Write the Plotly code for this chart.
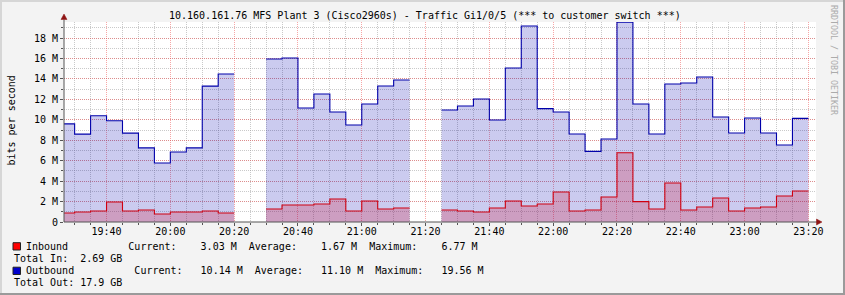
import plotly.graph_objects as go
from datetime import datetime, timedelta

# ---------------- data ----------------
DAY = "2024-01-01"
STEP_MIN = 5  # each sample covers the 5 minutes ending at its timestamp

interval_end = [
    "19:30", "19:35", "19:40", "19:45", "19:50", "19:55", "20:00", "20:05",
    "20:10", "20:15", "20:20", "20:25", "20:30", "20:35", "20:40", "20:45",
    "20:50", "20:55", "21:00", "21:05", "21:10", "21:15", "21:20", "21:25",
    "21:30", "21:35", "21:40", "21:45", "21:50", "21:55", "22:00", "22:05",
    "22:10", "22:15", "22:20", "22:25", "22:30", "22:35", "22:40", "22:45",
    "22:50", "22:55", "23:00", "23:05", "23:10", "23:15", "23:20",
]

# Mbit/s (None = no data)
outbound_m = [
    9.60, 8.60, 10.40, 9.90, 8.70, 7.25, 5.77, 6.85,
    7.25, 13.30, 14.48, None, None, 15.95, 16.05, 11.15,
    12.52, 10.76, 9.49, 11.55, 13.31, 13.89, None, None,
    10.96, 11.35, 12.03, 9.98, 15.07, 19.18, 11.09, 10.76,
    8.61, 6.91, 8.12, 19.56, 11.55, 8.61, 13.50, 13.60,
    14.19, 10.27, 8.71, 10.17, 8.71, 7.53, 10.14,
]
inbound_m = [
    0.88, 0.98, 1.08, 1.96, 1.08, 1.17, 0.78, 0.98,
    0.98, 1.08, 0.88, None, None, 1.27, 1.66, 1.66,
    1.76, 2.25, 1.08, 2.05, 1.27, 1.37, None, None,
    1.17, 1.08, 0.98, 1.37, 2.05, 1.57, 1.76, 2.94,
    1.08, 1.17, 2.45, 6.77, 1.99, 1.27, 3.82, 1.17,
    1.47, 2.35, 1.08, 1.37, 1.47, 2.54, 3.03,
]

y_tickvals = [0, 2, 4, 6, 8, 10, 12, 14, 16, 18]
y_ticktext = ["0", "2 M", "4 M", "6 M", "8 M", "10 M", "12 M", "14 M", "16 M", "18 M"]

title_text = "10.160.161.76 MFS Plant 3 (Cisco2960s) - Traffic Gi1/0/5 (*** to customer switch ***)"
legend_lines = [
    "Inbound          Current:    3.03 M  Average:    1.67 M  Maximum:    6.77 M",
    "Total In:  2.69 GB",
    "Outbound          Current:   10.14 M  Average:   11.10 M  Maximum:   19.56 M",
    "Total Out: 17.9 GB",
]

# ---------------- helpers ----------------
FONT = "DejaVu Sans Mono"
W, H = 845, 295
L, R, T, B = 64, 29, 22, 73
PW, PH = W - L - R, H - T - B


def px(xp):
    return (xp - L) / PW


def py(yp):
    return (H - B - yp) / PH


def ts(hm):
    return datetime.strptime(DAY + " " + hm, "%Y-%m-%d %H:%M")


def step_runs(ends, vals):
    """Split the series into continuous runs and build step outlines."""
    runs, xs, ys = [], [], []
    for e, v in zip(ends, vals):
        t1 = ts(e)
        t0 = t1 - timedelta(minutes=STEP_MIN)
        if v is None:
            if xs:
                runs.append((xs, ys))
            xs, ys = [], []
        else:
            xs += [t0, t1]
            ys += [v, v]
    if xs:
        runs.append((xs, ys))
    return runs


fig = go.Figure()
for vals, fillc, linec in [(outbound_m, "rgba(0,0,176,0.205)", "#0000aa"),
                           (inbound_m, "rgba(212,0,30,0.22)", "#d00010")]:
    for xs, ys in step_runs(interval_end, vals):
        fig.add_trace(go.Scatter(x=xs, y=ys, mode="lines", fill="tozeroy",
                                 fillcolor=fillc, line=dict(color=linec, width=1.1),
                                 hoverinfo="skip"))

x_start = ts("19:26") + timedelta(seconds=40)
x_end = ts("23:22") + timedelta(seconds=23)

major_grid = "rgba(240,80,80,0.5)"
minor_grid = "rgba(150,150,150,0.5)"

fig.update_xaxes(
    type="date", range=[x_start, x_end],
    tick0=ts("19:40"), dtick=20 * 60 * 1000, tickformat="%H:%M",
    showgrid=True, gridcolor=major_grid, griddash="1px,1px", gridwidth=1,
    ticks="outside", ticklen=3, tickcolor="#555555", ticklabelstandoff=-3,
    minor=dict(dtick=5 * 60 * 1000, showgrid=True, gridcolor=minor_grid,
               griddash="1px,1px", ticks="outside", ticklen=2, tickcolor="#555555"),
    showline=False, zeroline=False, layer="above traces",
    tickfont=dict(family=FONT, size=10, color="#000000"), fixedrange=True,
)
fig.update_yaxes(
    range=[0, 19.57], tickvals=y_tickvals, ticktext=y_ticktext,
    showgrid=True, gridcolor=major_grid, griddash="1px,1px", gridwidth=1,
    ticks="outside", ticklen=3, tickcolor="#555555",
    minor=dict(dtick=1, showgrid=True, gridcolor=minor_grid, griddash="1px,1px",
               ticks="outside", ticklen=2, tickcolor="#555555"),
    showline=False, zeroline=False, layer="above traces",
    tickfont=dict(family=FONT, size=10, color="#000000"), fixedrange=True,
)

shapes = []
# frame (rrdtool shade)
shapes.append(dict(type="rect", xref="paper", yref="paper", x0=px(0), x1=px(W), y0=py(0), y1=py(2),
                   fillcolor="#d6d6d6", line=dict(width=0), layer="below"))
shapes.append(dict(type="rect", xref="paper", yref="paper", x0=px(0), x1=px(2), y0=py(0), y1=py(H),
                   fillcolor="#d6d6d6", line=dict(width=0), layer="below"))
shapes.append(dict(type="rect", xref="paper", yref="paper", x0=px(0), x1=px(W), y0=py(H - 2), y1=py(H),
                   fillcolor="#9a9a9a", line=dict(width=0), layer="below"))
shapes.append(dict(type="rect", xref="paper", yref="paper", x0=px(W - 2), x1=px(W), y0=py(0), y1=py(H),
                   fillcolor="#9a9a9a", line=dict(width=0), layer="below"))
# axes
shapes.append(dict(type="line", xref="paper", yref="paper", x0=0, x1=0, y0=0, y1=py(19.5),
                   line=dict(color="#555555", width=1)))
shapes.append(dict(type="line", xref="paper", yref="paper", x0=0, x1=px(817), y0=0, y1=0,
                   line=dict(color="#555555", width=1)))
# arrows
shapes.append(dict(type="path", xref="paper", yref="paper", xsizemode="pixel", ysizemode="pixel",
                   xanchor=0, yanchor=py(19.5), path="M -3,0 L 3,0 L 0,5.5 Z",
                   fillcolor="#8f1414", line=dict(color="#8f1414", width=0.5)))
shapes.append(dict(type="path", xref="paper", yref="paper", xsizemode="pixel", ysizemode="pixel",
                   xanchor=px(816.5), yanchor=0, path="M 0,-3 L 0,3 L 5.5,0 Z",
                   fillcolor="#8f1414", line=dict(color="#8f1414", width=0.5)))
# legend swatches
shapes.append(dict(type="rect", xref="paper", yref="paper", x0=px(13), x1=px(20.5),
                   y0=py(242.7), y1=py(250), fillcolor="#ff0000", line=dict(color="#222222", width=1)))
shapes.append(dict(type="rect", xref="paper", yref="paper", x0=px(13), x1=px(20.5),
                   y0=py(267.2), y1=py(274.5), fillcolor="#0000cc", line=dict(color="#222222", width=1)))

annotations = []
annotations.append(dict(text=title_text, xref="paper", yref="paper", x=px(425), y=py(15),
                        xanchor="center", yanchor="middle", showarrow=False,
                        font=dict(family=FONT, size=10, color="#000000"), borderpad=0))
annotations.append(dict(text="bits per second", xref="paper", yref="paper", x=px(10.5), y=py(121),
                        xanchor="center", yanchor="middle", showarrow=False, textangle=-90,
                        font=dict(family=FONT, size=10, color="#000000"), borderpad=0))
annotations.append(dict(text="RRDTOOL / TOBI OETIKER", xref="paper", yref="paper", x=px(834), y=py(60),
                        xanchor="center", yanchor="middle", showarrow=False, textangle=90,
                        font=dict(family=FONT, size=8.3, color="#ababab"), borderpad=0))

legend_pos = [(25.6, 246.3), (13.7, 258.8), (25.6, 270.8), (13.7, 282.5)]
for txt, (lx, ly) in zip(legend_lines, legend_pos):
    annotations.append(dict(text=txt.replace(" ", "\u00a0"), xref="paper", yref="paper",
                            x=px(lx), y=py(ly), xanchor="left", yanchor="middle",
                            showarrow=False, borderpad=0, borderwidth=0,
                            font=dict(family=FONT, size=10, color="#000000")))

fig.update_layout(
    width=W, height=H, autosize=False,
    margin=dict(l=L, r=R, t=T, b=B, pad=0),
    paper_bgcolor="#f3f3f3", plot_bgcolor="#ffffff",
    showlegend=False, hovermode=False,
    shapes=shapes, annotations=annotations,
    font=dict(family=FONT, size=10, color="#000000"),
)

fig.write_html("out.html", config={"displayModeBar": False})
